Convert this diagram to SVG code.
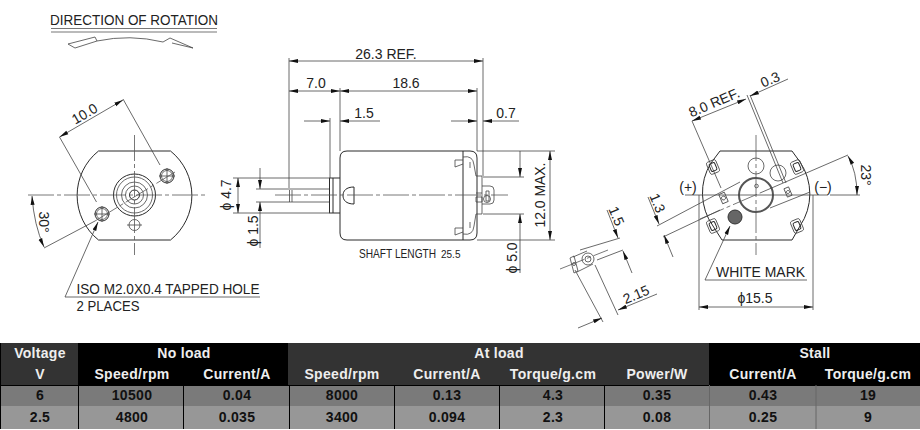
<svg xmlns="http://www.w3.org/2000/svg" width="920" height="430" viewBox="0 0 920 430">
<style>
.l{fill:none;stroke:#444;stroke-width:.8}
.m{fill:none;stroke:#2a2a2a;stroke-width:1}
.c{fill:none;stroke:#555;stroke-width:.8;stroke-dasharray:26 3 4 3}
.d{fill:none;stroke:#444;stroke-width:.8;marker-end:url(#a)}
.b{fill:none;stroke:#444;stroke-width:.8;marker-start:url(#s);marker-end:url(#a)}
.g{fill:none;stroke:#777;stroke-width:1.2}
text{font-family:"Liberation Sans",Arial,sans-serif;fill:#222;font-size:14px}
.t text{font-weight:bold;font-size:14px;text-anchor:middle;fill:#111;letter-spacing:.3px}
.t .h{fill:#eee}
.mid{text-anchor:middle}
</style>
<defs>
<marker id="a" markerUnits="userSpaceOnUse" markerWidth="10" markerHeight="6" refX="9" refY="2.5" orient="auto"><path d="M0 .5L9 2.5L0 4.5z" fill="#111"/></marker>
<marker id="s" markerUnits="userSpaceOnUse" markerWidth="10" markerHeight="6" refX="0" refY="2.5" orient="auto"><path d="M9 .5L0 2.5L9 4.5z" fill="#111"/></marker>
<g id="tang"><rect x="-5" y="-6.500" width="10" height="13" rx="2" class="l"/><rect x="-3" y="-4" width="6" height="8" rx="1.500" class="m"/></g>
<g id="hole"><circle r="7" class="m"/><circle r="5.500" class="l"/><path d="M-8 0H8M0-8V8" class="l"/></g>
</defs>
<rect width="920" height="430" fill="#fff"/>

<g id="rotation">
<text x="50" y="25" textLength="168" lengthAdjust="spacingAndGlyphs">DIRECTION OF ROTATION</text>
<path d="M51 28.500H217" class="g"/><path d="M51 32H217" class="g"/>
<path d="M68 44L95 37L97 41L75 48zM97 41Q130 34 163 42L170 38L193 48L172 43" class="l"/>
</g>

<g id="front-view">
<path d="M98.500 151H170.500A57 57 0 0 1 170.500 240H98.500A57 57 0 0 1 98.500 151z" class="m"/>
<circle cx="134.500" cy="195" r="21" class="m"/><circle cx="134.500" cy="195" r="18" class="l"/><circle cx="134.500" cy="195" r="13" class="l"/><circle cx="134.500" cy="195" r="9" class="l"/><circle cx="134.500" cy="195" r="5" class="m"/>
<use href="#hole" x="102" y="214"/><use href="#hole" x="167" y="176"/>
<circle cx="134.500" cy="225" r="5.500" class="l"/><path d="M127 225H142" class="l"/>
</g>

<g id="side-view">
<path d="M347 151H470Q477 151 477 158V233Q477 240 470 240H347Q340 240 340 233V158Q340 151 347 151z" class="m"/>
<path d="M463 151V240M354 187V204M354 187C346 187 343 191 343 195.500C343 200 346 204 354 204" class="m"/>
<path d="M333 178H340M333 213H340M329.500 178H333V213H329.500z" class="m"/>
<path d="M289 189H329M289 202H329M292 190V202M289.500 190V202" class="l"/>
<path d="M455 160H463M455 160V167L463 164M463 157Q473 155 474 165L476 176H482V214H476L474 226Q473 236 463 234M455 228H463M455 228V235L463 232M470 162V168M470 222V228" class="l"/>
<path d="M482 186H490Q494 186 494 190V200Q494 204 490 204H482M476 193H482M476 202H482V197H476zM486 191H489V201H486z" class="l"/>
<circle cx="487" cy="199" r="3.500" class="l"/>
</g>

<g id="rear-view">
<path d="M720 151H792L800 162A57 57 0 0 1 800 226L792 240H722L713 226A57 57 0 0 1 711 163z" class="m"/>
<circle cx="756" cy="195" r="17" fill="none" stroke="#555" stroke-width="2"/>
<circle cx="756.500" cy="186" r="1.800" class="l"/>
<circle cx="756" cy="166" r="8" class="l"/><circle cx="778" cy="173" r="8" class="l"/>
<circle cx="735" cy="217" r="7" fill="#666" stroke="#333"/>
<use href="#tang" transform="translate(713 167) rotate(-23)"/><use href="#tang" transform="translate(797 167) rotate(-23)"/><use href="#tang" transform="translate(713 226) rotate(-23)"/><use href="#tang" transform="translate(797 226) rotate(-23)"/>
<g transform="translate(723.500 198) rotate(-23)"><rect x="-3" y="-5" width="6" height="10" class="l"/><circle r="2" class="l"/></g>
<g transform="translate(788 192) rotate(-23)"><rect x="-2.500" y="-4.500" width="5" height="9" class="l"/><circle r="1.500" class="l"/></g>
</g>

<g id="terminal-detail">
<path d="M570 258L574 256L578 271L574 273z" class="l"/>
<circle cx="588" cy="259" r="6" class="l"/><circle cx="588" cy="259" r="3" class="l"/><circle cx="574" cy="264" r="1.500" class="l"/>
<path d="M573 257L587 251M577 272L593 264M580 250L620 238M597 260L623 250" class="l"/>
</g>

<g id="connectors">
<!-- front view -->
<path d="M28 195H206" class="c"/><path d="M134.500 135V255" class="c"/><path d="M95 221L175 172" class="c"/>
<path d="M59.500 137L96.500 202M123 99L160 165M44 248L95 221" class="l"/>
<path d="M59.500 137L123 100" class="b"/>
<path d="M32 196Q34 225 44 247" class="b"/>
<path d="M260 297H65L98 222" class="d"/>
<!-- side view -->
<path d="M289 58V188M483 58V176M340 88V151M477 88V151M330 118V178" class="l"/>
<path d="M289 61H483" class="b"/>
<path d="M289 91H340" class="b"/><path d="M340 91H477" class="b"/>
<path d="M304 121H330" class="d"/><path d="M380 121H340" class="d"/>
<path d="M451 121H477" class="d"/><path d="M519 121H483" class="d"/>
<path d="M275 195H508" class="c"/>
<path d="M233 178H330M233 213H330M256 189H289M256 202H289" class="l"/>
<path d="M238 178V213" class="b"/>
<path d="M260 168V189" class="d"/><path d="M260 248V202" class="d"/>
<path d="M483 177H524M483 214H524M477 151H555M477 240H555" class="l"/>
<path d="M520 151V177" class="d"/><path d="M520 273V214" class="d"/>
<path d="M550 151V240" class="b"/>
<!-- rear view -->
<path d="M685 195H828M830 195H860" class="l"/>
<path d="M756 135V255" class="c"/>
<path d="M700 219L760 193" class="c"/>
<path d="M657 226L740 182M760 193L848 155M663 237L720 210M770 208L810 192" class="l"/>
<path d="M692 121L721 188M747 95L783 183M750 95L786 183" class="l"/>
<path d="M692 121L746 99" class="b"/>
<path d="M788 79L750 96" class="d"/>
<path d="M848 156Q857 172 857 195" class="b"/>
<path d="M648 197L659 224" class="d"/><path d="M673 257L664 235" class="d"/>
<path d="M607 210L618 238" class="d"/><path d="M632 273L623 251" class="d"/>
<path d="M560 269L608 250" class="c"/>
<path d="M575 270L603 322M595 265L618 315" class="l"/>
<path d="M578 328L602 318" class="d"/><path d="M657 294L618 310" class="d"/>
<path d="M807 280H705L730 226" class="d"/>
<path d="M699 195V310M813 195V310" class="l"/>
<path d="M699 307H813" class="b"/>
</g>

<g id="labels">
<text class="mid" x="386" y="59">26.3 REF.</text>
<text class="mid" x="316" y="88">7.0</text>
<text class="mid" x="406" y="88">18.6</text>
<text class="mid" x="364" y="118">1.5</text>
<text class="mid" x="506" y="118">0.7</text>
<text x="0" y="0" class="mid" transform="translate(231 195) rotate(-90)">ϕ 4.7</text>
<text x="0" y="0" class="mid" transform="translate(258 231) rotate(-90)">ϕ 1.5</text>
<text x="0" y="0" class="mid" transform="translate(517 258) rotate(-90)">ϕ 5.0</text>
<text x="0" y="0" class="mid" transform="translate(545 195) rotate(-90)" textLength="65">12.0 MAX.</text>
<text x="0" y="0" style="font-size:12px" transform="translate(359 258) scale(.846 1)">SHAFT LENGTH</text>
<text x="441" y="258" style="font-size:10px">25.5</text>
<text x="0" y="0" class="mid" transform="translate(87 118) rotate(-30)">10.0</text>
<text x="0" y="0" class="mid" transform="translate(39 222) rotate(90)">30°</text>
<text x="76.500" y="294" textLength="183" lengthAdjust="spacingAndGlyphs">ISO M2.0X0.4 TAPPED HOLE</text>
<text x="76.500" y="311" textLength="63" lengthAdjust="spacingAndGlyphs">2 PLACES</text>
<text x="0" y="0" class="mid" transform="translate(716 107) rotate(-23)">8.0 REF.</text>
<text x="0" y="0" class="mid" transform="translate(772 84) rotate(-23)">0.3</text>
<text x="0" y="0" class="mid" transform="translate(861 175) rotate(90)">23°</text>
<text class="mid" x="688" y="192">(+)</text>
<text class="mid" x="823" y="192">(−)</text>
<text x="0" y="0" class="mid" transform="translate(653 205) rotate(67)">1.3</text>
<text x="0" y="0" class="mid" transform="translate(612 218) rotate(67)">1.5</text>
<text x="0" y="0" class="mid" transform="translate(638 299) rotate(-23)">2.15</text>
<text x="716" y="277" textLength="89" lengthAdjust="spacingAndGlyphs">WHITE MARK</text>
<text class="mid" x="755" y="303">ϕ15.5</text>
</g>

<g id="spec-table" class="t">
<rect x="0" y="343" width="920" height="42" fill="#333"/>
<rect x="78" y="343" width="210" height="42" fill="#000"/>
<rect x="709" y="343" width="211" height="42" fill="#000"/>
<rect x="0" y="385" width="920" height="21" fill="#7a7a7a"/>
<rect x="0" y="406" width="920" height="23" fill="#979797"/>
<path d="M0 385.500H920M78.500 385V429M183.500 385V429M289.500 385V429M394.500 385V429M499.500 385V429M604.500 385V429M.5 343V429" stroke="#000" fill="none"/>
<path d="M709.500 385V429M816 385V429" stroke="#666" fill="none"/>
<text class="h" x="40" y="358">Voltage</text><text class="h" x="184" y="358">No load</text><text class="h" x="499" y="358">At load</text><text class="h" x="815" y="358">Stall</text>
<text class="h" x="40" y="379">V</text><text class="h" x="132" y="379">Speed/rpm</text><text class="h" x="237" y="379">Current/A</text><text class="h" x="342" y="379">Speed/rpm</text><text class="h" x="447" y="379">Current/A</text><text class="h" x="553" y="379">Torque/g.cm</text><text class="h" x="657" y="379">Power/W</text><text class="h" x="763" y="379">Current/A</text><text class="h" x="868" y="379">Torque/g.cm</text>
<text x="40" y="400">6</text><text x="132" y="400">10500</text><text x="237" y="400">0.04</text><text x="342" y="400">8000</text><text x="447" y="400">0.13</text><text x="553" y="400">4.3</text><text x="657" y="400">0.35</text><text x="763" y="400">0.43</text><text x="868" y="400">19</text>
<text x="40" y="422">2.5</text><text x="132" y="422">4800</text><text x="237" y="422">0.035</text><text x="342" y="422">3400</text><text x="447" y="422">0.094</text><text x="553" y="422">2.3</text><text x="657" y="422">0.08</text><text x="763" y="422">0.25</text><text x="868" y="422">9</text>
</g>
</svg>
